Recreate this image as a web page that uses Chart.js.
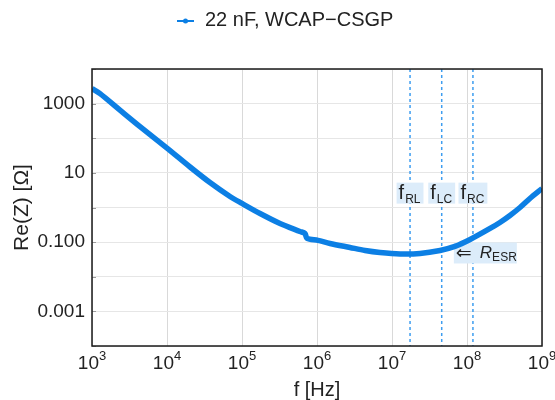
<!DOCTYPE html>
<html><head><meta charset="utf-8">
<script src="https://cdn.jsdelivr.net/npm/chart.js@4"></script>
<style>html,body{margin:0;padding:0;background:#fff}#wrap{width:555px;height:400px}</style>
</head><body><div id="wrap"><canvas id="c" width="555" height="400"></canvas></div>
<script>
const seriesName = '22 nF, WCAP\u2212CSGP';
const freqHz = [1e3, 1.28e3, 2.36e3, 4.37e3, 1e4, 2.03e4, 3.74e4, 6.92e4, 1e5, 1.74e5, 3.21e5, 5.93e5, 6.92e5, 7.36e5, 1.03e6, 1.49e6, 2.75e6, 4.37e6, 6.9e6, 1.28e7, 2.36e7, 4.37e7, 6.9e7, 1.1e8, 2.03e8, 2.75e8, 3.74e8, 5.09e8, 6.9e8, 1e9];
const reZ    = [2710, 1940, 649, 217, 52, 14.8, 5.26, 2.08, 1.31, 0.671, 0.346, 0.203, 0.178, 0.128, 0.112, 0.0916, 0.0702, 0.0575, 0.0504, 0.0457, 0.0472, 0.0575, 0.075, 0.119, 0.248, 0.370, 0.589, 1.0, 1.82, 3.53];
const xTickExponents = [3, 4, 5, 6, 7, 8, 9];
const yTickExponents = [-4, -3, -2, -1, 0, 1, 2, 3, 4];
const yTickLabels = {'3': '1000', '1': '10', '-1': '0.100', '-3': '0.001'};
const markerNames = ['RL', 'LC', 'RC'];
const markerFreqs = [1.74e7, 4.6e7, 1.2e8];
const markerLabelY = 2.6;
const esrText = ['\u21D0', 'R', 'ESR'];
const esrAnchor = {f: 7.1e7, r: 0.044};

const FONT = '"Liberation Sans", Arial, sans-serif';
const BLUE = '#0c7fe4';

const deco = {
  id: 'deco',
  beforeDatasetsDraw(chart) {
    const {ctx, chartArea: a, scales: {x, y}} = chart;
    ctx.save();
    ctx.strokeStyle = '#9a9a9a'; ctx.lineWidth = 1;
    yTickExponents.forEach(e => {
      const py = Math.round(y.getPixelForValue(Math.pow(10, e))) + 0.5;
      ctx.beginPath(); ctx.moveTo(a.left, py); ctx.lineTo(a.left + 4, py); ctx.stroke();
    });
    ctx.setLineDash([3, 3]); ctx.strokeStyle = '#3d9df0'; ctx.lineWidth = 1.5;
    markerFreqs.forEach(f => {
      const px = x.getPixelForValue(f);
      ctx.beginPath(); ctx.moveTo(px, a.top); ctx.lineTo(px, a.bottom); ctx.stroke();
    });
    ctx.setLineDash([]);
    const ly = y.getPixelForValue(markerLabelY);
    markerNames.forEach((n, i) => {
      const cx = x.getPixelForValue(markerFreqs[i]);
      ctx.font = '20px ' + FONT; const wf = ctx.measureText('f').width;
      ctx.font = '12px ' + FONT; const ws = ctx.measureText(n).width;
      const w = wf + ws + 6, h = 21;
      ctx.fillStyle = '#dcecfa'; ctx.fillRect(cx - w / 2, ly - h / 2, w, h);
      ctx.fillStyle = '#222'; ctx.textBaseline = 'alphabetic'; ctx.textAlign = 'left';
      ctx.font = '20px ' + FONT; ctx.fillText('f', cx - w / 2 + 2, ly + 6);
      ctx.font = '12px ' + FONT; ctx.fillText(n, cx - w / 2 + 3 + wf, ly + 10);
    });
    const ax = x.getPixelForValue(esrAnchor.f), ay = y.getPixelForValue(esrAnchor.r);
    ctx.fillStyle = '#dcecfa'; ctx.fillRect(ax - 2, ay - 12, 63, 21);
    ctx.fillStyle = '#222';
    ctx.font = '19px "DejaVu Sans", sans-serif'; ctx.textBaseline = 'middle';
    ctx.fillText(esrText[0], ax, ay);
    ctx.textBaseline = 'alphabetic';
    ctx.font = 'italic 17px ' + FONT; ctx.fillText(esrText[1], ax + 24, ay + 4);
    const wr = ctx.measureText(esrText[1]).width;
    ctx.font = '12px ' + FONT; ctx.fillText(esrText[2], ax + 24 + wr, ay + 7);
    ctx.restore();
  },
  afterDatasetsDraw(chart) {
    const {ctx, chartArea: a} = chart;
    ctx.save();
    ctx.strokeStyle = '#1a1a1a'; ctx.lineWidth = 1.5;
    ctx.strokeRect(a.left, a.top, a.right - a.left, a.bottom - a.top);
    ctx.restore();
  },
  afterDraw(chart) {
    const {ctx, chartArea: a, scales: {x}} = chart;
    ctx.save();
    ctx.fillStyle = '#222'; ctx.textAlign = 'left'; ctx.textBaseline = 'alphabetic';
    xTickExponents.forEach(e => {
      const px = x.getPixelForValue(Math.pow(10, e));
      ctx.font = '19px ' + FONT; const wb = ctx.measureText('10').width;
      ctx.font = '13px ' + FONT; const we = ctx.measureText(String(e)).width;
      const x0 = px - (wb + we) / 2;
      ctx.font = '19px ' + FONT; ctx.fillText('10', x0, a.bottom + 23);
      ctx.font = '13px ' + FONT; ctx.fillText(String(e), x0 + wb, a.bottom + 14);
    });
    ctx.strokeStyle = BLUE; ctx.lineWidth = 2;
    ctx.beginPath(); ctx.moveTo(177, 21); ctx.lineTo(194, 21); ctx.stroke();
    ctx.fillStyle = BLUE; ctx.beginPath(); ctx.arc(185.5, 21, 2.5, 0, Math.PI * 2); ctx.fill();
    ctx.fillStyle = '#222'; ctx.font = '20px ' + FONT; ctx.textBaseline = 'middle';
    ctx.fillText(seriesName, 205, 20);
    ctx.restore();
  }
};

new Chart(document.getElementById('c'), {
  type: 'line',
  data: {
    datasets: [{
      label: seriesName,
      data: freqHz.map((f, i) => ({x: f, y: reZ[i]})),
      borderColor: BLUE, backgroundColor: BLUE,
      borderWidth: 5.5, pointRadius: 0,
      tension: 0.3, fill: false
    }]
  },
  options: {
    responsive: false, animation: false, devicePixelRatio: 1,
    layout: {padding: {top: 69, right: 13, left: 0, bottom: 0}},
    plugins: {legend: {display: false}, tooltip: {enabled: false}},
    scales: {
      x: {
        type: 'logarithmic', min: 1e3, max: 1e9,
        afterBuildTicks: s => { s.ticks = xTickExponents.map(e => ({value: Math.pow(10, e)})); },
        afterFit: s => { s.height = 54; },
        ticks: {display: false},
        grid: {color: '#d9d9d9', lineWidth: 1, drawTicks: false},
        border: {display: false},
        title: {display: true, text: 'f [Hz]', color: '#222', font: {family: FONT, size: 20, lineHeight: 1}, padding: {top: 0, bottom: 0}}
      },
      y: {
        type: 'logarithmic', min: 1e-4, max: 1e4,
        afterBuildTicks: s => { s.ticks = yTickExponents.map(e => ({value: Math.pow(10, e)})); },
        afterFit: s => { s.width = 92; },
        ticks: {
          color: '#222', padding: 7, font: {family: FONT, size: 19},
          callback: v => yTickLabels[String(Math.round(Math.log10(v)))] || ''
        },
        grid: {color: '#e6e6e6', lineWidth: 1, drawTicks: false},
        border: {display: false},
        title: {display: true, text: 'Re(Z) [\u03A9]', color: '#222', font: {family: FONT, size: 21, lineHeight: 1}, padding: {top: 12, bottom: 0}}
      }
    }
  },
  plugins: [deco]
});
</script></body></html>
